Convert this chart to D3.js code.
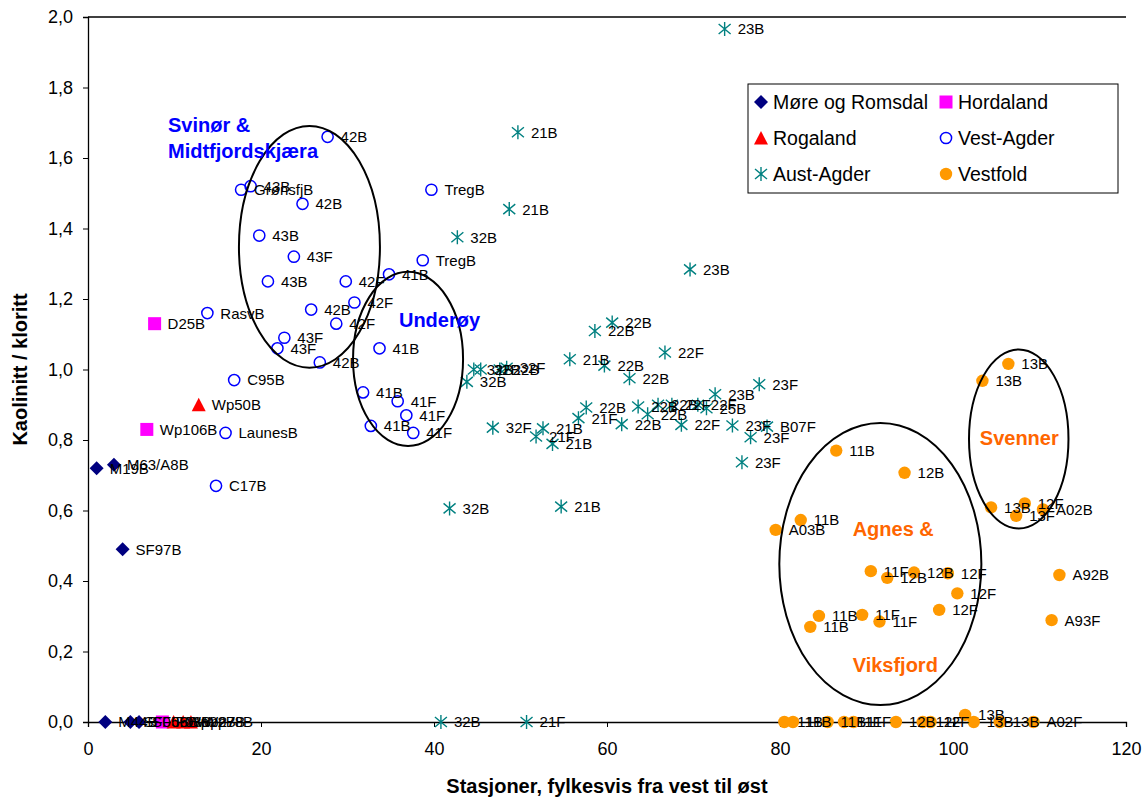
<!DOCTYPE html>
<html><head><meta charset="utf-8">
<script src="https://cdn.jsdelivr.net/npm/d3@7"></script>
<style>
body{margin:0;background:#fff;}
text{font-family:"Liberation Sans",Arial,sans-serif;}
</style></head>
<body><svg id="c" width="1143" height="798"></svg>
<script>
// ---- data: [station index, kaolinitt/kloritt, label]
const moreData = [[1,0.72,"M19B"],[3,0.73,"M63/A8B"],[4,0.49,"SF97B"],[2,0,"M44B"],[4.9,0,"SF05B"],[5.9,0,"SF06B"]];
const hordalandData = [[7.7,1.13,"D25B"],[6.8,0.83,"Wp106B"],[8.6,0,"F08B"]];
const rogalandData = [[12.8,0.90,"Wp50B"],[9.9,0,"Wp22B"],[11.0,0,"Wp27B"],[11.9,0,"Wp78B"]];
const vestAgderData = [[27.7,1.66,"42B"],[18.8,1.52,"43B"],[17.7,1.51,"GrønsfjB"],[24.8,1.47,"42B"],[19.8,1.38,"43B"],
 [23.8,1.32,"43F"],[20.8,1.25,"43B"],[29.8,1.25,"42F"],[39.7,1.51,"TregB"],[38.7,1.31,"TregB"],[34.8,1.27,"41B"],
 [30.8,1.19,"42F"],[25.8,1.17,"42B"],[28.7,1.13,"42F"],[13.8,1.16,"RasvB"],[22.7,1.09,"43F"],[21.9,1.06,"43F"],
 [26.8,1.02,"42B"],[33.7,1.06,"41B"],[16.9,0.97,"C95B"],[31.8,0.935,"41B"],[35.8,0.91,"41F"],[36.8,0.87,"41F"],
 [32.7,0.84,"41B"],[37.6,0.82,"41F"],[15.9,0.82,"LaunesB"],[14.8,0.67,"C17B"]];
const austAgderData = [[73.6,1.966,"23B"],[49.7,1.673,"21B"],[48.7,1.455,"21B"],[42.7,1.375,"32B"],[69.6,1.284,"23B"],
 [60.6,1.133,"22B"],[58.6,1.109,"22B"],[55.7,1.029,"21B"],[59.7,1.011,"22B"],[62.6,0.975,"22B"],[66.7,1.048,"22F"],
 [43.8,0.965,"32B"],[44.6,1.0,"32B"],[45.4,1.0,"32B"],[47.6,1.0,"22B"],[48.4,1.005,"32F"],[46.8,0.835,"32F"],
 [52.6,0.833,"21B"],[51.8,0.81,"21F"],[53.7,0.789,"21B"],[57.6,0.892,"22B"],[56.7,0.862,"21F"],[63.6,0.895,"22B"],
 [64.7,0.873,"22B"],[61.7,0.845,"22B"],[65.9,0.90,"22B"],[67.5,0.90,"22F"],[70.5,0.90,"22F"],[72.5,0.93,"23B"],
 [71.5,0.89,"25B"],[77.6,0.958,"23F"],[68.6,0.843,"22F"],[74.5,0.841,"23F"],[78.5,0.838,"B07F"],[76.6,0.808,"23F"],
 [75.6,0.737,"23F"],[41.8,0.606,"32B"],[54.7,0.611,"21B"],[40.8,0,"32B"],[50.7,0,"21F"]];
const vestfoldData = [[106.4,1.016,"13B"],[103.4,0.968,"13B"],[86.5,0.77,"11B"],[94.4,0.707,"12B"],[104.4,0.609,"13B"],
 [108.3,0.62,"12F"],[107.3,0.585,"13F"],[110.4,0.603,"A02B"],[82.4,0.573,"11B"],[79.5,0.545,"A03B"],[90.5,0.428,"11F"],
 [92.4,0.409,"12B"],[95.5,0.424,"12B"],[99.4,0.422,"12F"],[100.5,0.365,"12F"],[98.4,0.318,"12F"],[112.3,0.417,"A92B"],
 [111.4,0.289,"A93F"],[84.5,0.301,"11B"],[83.5,0.27,"11B"],[89.5,0.304,"11F"],[91.5,0.285,"11F"],
 [80.5,0,"11B"],[81.5,0,"11B"],[85.5,0,"11B"],[87.4,0,"11F"],[88.5,0,"11F"],[93.4,0,"12B"],[96.5,0,"12F"],[97.4,0,"12F"],
 [101.4,0.02,"13B"],[102.4,0,"13B"],[105.4,0,"13B"],[109.3,0,"A02F"]];

const seriesNames = ["Møre og Romsdal","Hordaland","Rogaland","Vest-Agder","Aust-Agder","Vestfold"];
const xTicks = [0,20,40,60,80,100,120];
const yTicks = [0,0.2,0.4,0.6,0.8,1.0,1.2,1.4,1.6,1.8,2.0];
const xTitle = "Stasjoner, fylkesvis fra vest til øst";
const yTitle = "Kaolinitt / kloritt";
// annotations: [text, x, y(baseline), colour]
const groupLabels = [["Svinør &",9.25,1.674,"#0000ff"],["Midtfjordskjæra",9.25,1.600,"#0000ff"],["Underøy",35.95,1.121,"#0000ff"],
 ["Svenner",103.1,0.786,"#ff6600"],["Agnes &",88.4,0.528,"#ff6600"],["Viksfjord",88.4,0.142,"#ff6600"]];
// ellipses: [cx, cy, rx, ry] in data units
const groupEllipses = [[25.6,1.348,8.15,0.343],[37.0,1.030,6.36,0.247],[91.6,0.448,11.68,0.40],[107.6,0.803,5.75,0.254]];

// ---- drawing
const svg = d3.select("#c");
const m = {l:88, r:17, t:17, b:76};
const W = 1143, H = 798;
const x = d3.scaleLinear([0,120],[m.l, W-m.r]);
const y = d3.scaleLinear([0,2],[H-m.b, m.t]);
const fmt = d => d3.format(".1f")(d).replace(".",",");

// top border of plot area
svg.append("line").attr("x1",x(0)).attr("x2",x(120)).attr("y1",y(2)).attr("y2",y(2)).attr("stroke","#000").attr("stroke-width",1.3);

const gx = svg.append("g").attr("transform",`translate(0,${y(0)})`)
  .call(d3.axisBottom(x).tickValues(xTicks).tickFormat(d3.format("d")).tickSize(5).tickPadding(15));
const gy = svg.append("g").attr("transform",`translate(${x(0)},0)`)
  .call(d3.axisLeft(y).tickValues(yTicks).tickFormat(fmt).tickSize(5).tickPadding(10));
[gx,gy].forEach(g=>{
  g.selectAll(".domain").attr("stroke","#000").attr("stroke-width",1.3);
  g.selectAll(".tick line").attr("stroke","#000");
  g.selectAll("text").attr("font-size",18).attr("fill","#000").attr("font-family","Liberation Sans, Arial, sans-serif");
});

svg.append("text").attr("x",(x(0)+x(120))/2).attr("y",793).attr("text-anchor","middle")
  .attr("font-size",20).attr("font-weight","bold").text(xTitle);
svg.append("text").attr("transform",`translate(27,${(y(0)+y(2))/2}) rotate(-90)`).attr("text-anchor","middle")
  .attr("font-size",20).attr("font-weight","bold").text(yTitle);

// marker shapes
const shapes = {
  diamond: (g,c)=>g.append("path").attr("d","M0,-7L7,0L0,7L-7,0Z").attr("fill",c),
  square:  (g,c)=>g.append("rect").attr("x",-6.5).attr("y",-6.5).attr("width",13).attr("height",13).attr("fill",c),
  triangle:(g,c)=>g.append("path").attr("d","M0,-7L7,6.5L-7,6.5Z").attr("fill",c),
  ocircle: (g,c)=>g.append("circle").attr("r",5.6).attr("fill","none").attr("stroke",c).attr("stroke-width",1.5),
  star:    (g,c)=>g.append("path").attr("d","M0,-7V7M-6,-5L6,5M-6,5L6,-5").attr("stroke",c).attr("stroke-width",1.4).attr("fill","none"),
  fcircle: (g,c)=>g.append("circle").attr("r",6.2).attr("fill",c)
};
const series = [
  {data:moreData, shape:"diamond", color:"#000080"},
  {data:hordalandData, shape:"square", color:"#ff00ff"},
  {data:rogalandData, shape:"triangle", color:"#ff0000"},
  {data:vestAgderData, shape:"ocircle", color:"#0000ff"},
  {data:austAgderData, shape:"star", color:"#008080"},
  {data:vestfoldData, shape:"fcircle", color:"#ff9900"}
];
series.forEach((s,i)=>{
  const g = svg.append("g");
  s.data.forEach(d=>{
    const p = g.append("g").attr("transform",`translate(${x(d[0])},${y(d[1])})`);
    shapes[s.shape](p,s.color);
  });
});
const lg = svg.append("g");
series.forEach(s=>{
  lg.selectAll(null).data(s.data).join("text")
    .attr("x",d=>x(d[0])+13).attr("y",d=>y(d[1])).attr("dy","0.36em")
    .attr("font-size",15).attr("fill","#000").text(d=>d[2]);
});

// group ellipses
svg.append("g").selectAll("ellipse").data(groupEllipses).join("ellipse")
  .attr("cx",d=>x(d[0])).attr("cy",d=>y(d[1]))
  .attr("rx",d=>x(d[2])-x(0)).attr("ry",d=>y(0)-y(d[3]))
  .attr("fill","none").attr("stroke","#000").attr("stroke-width",2);

svg.append("g").selectAll("text").data(groupLabels).join("text")
  .attr("x",d=>x(d[1])).attr("y",d=>y(d[2])).attr("fill",d=>d[3])
  .attr("font-size",20).attr("font-weight","bold").text(d=>d[0]);

// legend
const L = svg.append("g").attr("transform","translate(748,84)");
L.append("rect").attr("width",370).attr("height",109).attr("fill","#fff").attr("stroke","#000").attr("stroke-width",1);
const legPos = [[13,18],[198,18],[13,54],[198,54],[13,90],[198,90]];
series.forEach((s,i)=>{
  const p = L.append("g").attr("transform",`translate(${legPos[i][0]},${legPos[i][1]})`);
  shapes[s.shape](p,s.color);
  L.append("text").attr("x",legPos[i][0]+12).attr("y",legPos[i][1]).attr("dy","0.36em")
    .attr("font-size",19.5).attr("fill","#000").text(seriesNames[i]);
});
</script></body></html>
